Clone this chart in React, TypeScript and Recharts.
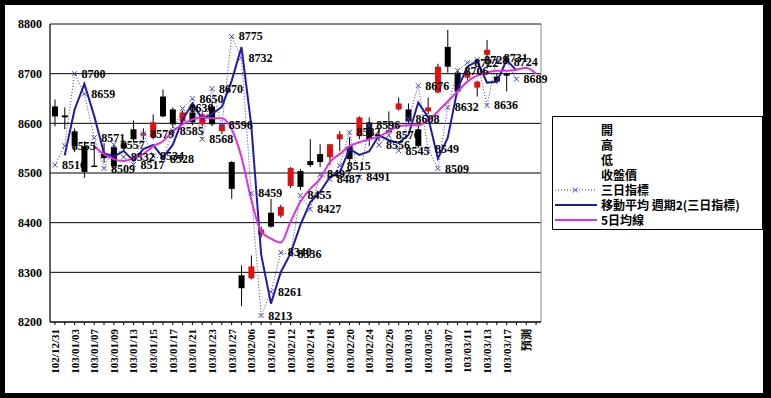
import { Bar, CartesianGrid, ComposedChart, LabelList, Line, ReferenceArea, XAxis, YAxis } from "recharts";

const dates = [
  "102/12/31", "103/01/02", "103/01/03", "103/01/06", "103/01/07", "103/01/08", "103/01/09", "103/01/10",
  "103/01/13", "103/01/14", "103/01/15", "103/01/16", "103/01/17", "103/01/20", "103/01/21", "103/01/22",
  "103/01/23", "103/01/24", "103/01/27", "103/02/05", "103/02/06", "103/02/07", "103/02/10", "103/02/11",
  "103/02/12", "103/02/13", "103/02/14", "103/02/17", "103/02/18", "103/02/19", "103/02/20", "103/02/21",
  "103/02/24", "103/02/25", "103/02/26", "103/02/27", "103/03/03", "103/03/04", "103/03/05", "103/03/06",
  "103/03/07", "103/03/10", "103/03/11", "103/03/12", "103/03/13", "103/03/14", "103/03/17", "103/03/18",
  "預測", "",
];

// 開 高 低 收盤價
const openPrices = [
  8634, 8616, 8584, 8554, 8515, 8540, 8552, 8560, 8588, 8576, 8572, 8654, 8628, 8604, 8622, 8598,
  8634, 8584, 8522, 8294, 8288, 8376, 8420, 8414, 8474, 8504, 8524, 8538, 8532, 8568, 8554, 8574,
  8602, 8576, 8586, 8628, 8628, 8588, 8624, 8662, 8754, 8702, 8692, 8672, 8738, 8694, 8700,
];
const highPrices = [
  8648, 8632, 8590, 8564, 8562, 8560, 8556, 8566, 8606, 8590, 8618, 8668, 8632, 8626, 8640, 8622,
  8644, 8600, 8524, 8314, 8334, 8392, 8448, 8436, 8512, 8508, 8568, 8558, 8558, 8584, 8572, 8614,
  8612, 8584, 8624, 8652, 8640, 8596, 8652, 8720, 8788, 8708, 8706, 8686, 8768, 8700, 8702,
];
const lowPrices = [
  8594, 8588, 8542, 8490, 8512, 8520, 8506, 8544, 8562, 8566, 8568, 8612, 8590, 8600, 8596, 8594,
  8594, 8578, 8448, 8232, 8286, 8370, 8390, 8410, 8470, 8466, 8512, 8512, 8516, 8544, 8518, 8568,
  8554, 8564, 8580, 8626, 8600, 8550, 8618, 8660, 8702, 8660, 8688, 8654, 8714, 8680, 8664,
];
const closePrices = [
  8614, 8612, 8554, 8502, 8513, 8530, 8514, 8550, 8568, 8580, 8602, 8614, 8598, 8622, 8602, 8618,
  8598, 8598, 8468, 8268, 8312, 8386, 8392, 8432, 8510, 8472, 8516, 8522, 8558, 8578, 8528, 8612,
  8568, 8572, 8582, 8640, 8604, 8554, 8632, 8714, 8714, 8664, 8702, 8684, 8748, 8684, 8696,
];

const threeDay = [
  8516, 8555, 8700, 8659, 8571, 8509, 8557, 8532, 8517, 8579, 8534, 8528, 8585, 8630, 8650, 8568,
  8670, 8596, 8775, 8732, 8459, 8213, 8261, 8340, 8336, 8455, 8427, 8497, 8487, 8515, 8582, 8491,
  8596, 8556, 8576, 8545, 8608, 8676, 8549, 8509, 8632, 8706, 8722, 8728, 8636, 8731, 8724, 8689,
];

// 移動平均 週期2(三日指標)
const movingAvg2 = [
  null, 8535.5, 8627.5, 8679.5, 8615, 8540, 8533, 8544.5, 8524.5, 8548, 8556.5, 8531, 8556.5, 8607.5,
  8640, 8609, 8619, 8633, 8685.5, 8753.5, 8595.5, 8336, 8237, 8300.5, 8338, 8395.5, 8441, 8462, 8492,
  8501, 8548.5, 8536.5, 8543.5, 8576, 8566, 8560.5, 8576.5, 8642, 8612.5, 8529, 8570.5, 8669, 8714,
  8725, 8682, 8683.5, 8727.5, 8706.5,
];

// 5日均線
const ma5 = [
  null, null, null, null, 8554, 8538, 8528, 8524, 8530, 8538, 8554, 8564, 8584, 8598, 8608, 8612, 8610,
  8610, 8588, 8532, 8446, 8382, 8368, 8360, 8402, 8442, 8468, 8488, 8522, 8538, 8554, 8562, 8568, 8574,
  8584, 8594, 8596, 8596, 8606, 8624, 8644, 8664, 8684, 8696, 8702, 8706, 8706, 8708, 8712, 8700,
];

const yTicks = [8200, 8300, 8400, 8500, 8600, 8700, 8800];

const rows = dates.map((date, i) => ({
  date,
  open: openPrices[i] ?? null,
  high: highPrices[i] ?? null,
  low: lowPrices[i] ?? null,
  close: closePrices[i] ?? null,
  threeDay: threeDay[i] ?? null,
  ma2: movingAvg2[i] ?? null,
  ma5: ma5[i] ?? null,
}));

const legendItems = [
  { name: "開", kind: "none" },
  { name: "高", kind: "none" },
  { name: "低", kind: "none" },
  { name: "收盤價", kind: "none" },
  { name: "三日指標", kind: "dotted" },
  { name: "移動平均 週期2(三日指標)", kind: "blue" },
  { name: "5日均線", kind: "magenta" },
];

const SERIF = "'Liberation Serif', 'Times New Roman', serif";
const CJK = "'Noto Sans CJK TC', 'Noto Sans CJK SC', sans-serif";

function Candle(props: any) {
  const { x, width, payload } = props;
  let { y, height } = props;
  if (!payload || payload.high == null) return <g />;
  if (height < 0) {
    y += height;
    height = -height;
  }
  const { open, close, high, low } = payload;
  const cx = x + width / 2;
  const span = high - low || 1;
  const toY = (v: number) => y + ((high - v) / span) * height;
  const top = toY(Math.max(open, close));
  const bottom = toY(Math.min(open, close));
  const up = close > open;
  return (
    <g>
      <line x1={cx} x2={cx} y1={y} y2={y + height} stroke="#000" strokeWidth={1} />
      <rect x={cx - 3} y={top} width={6} height={Math.max(bottom - top, 1.5)} fill={up ? "#e01010" : "#000"} />
    </g>
  );
}

function Cross(props: any) {
  const { cx, cy, value } = props;
  if (value == null || cx == null || cy == null) return <g />;
  const s = 2.5;
  return (
    <path
      d={`M${cx - s},${cy - s}L${cx + s},${cy + s}M${cx - s},${cy + s}L${cx + s},${cy - s}`}
      stroke="#4a44c8"
      strokeWidth={1}
    />
  );
}

function ValueLabel(props: any) {
  const { x, y, value } = props;
  if (value == null || x == null) return null;
  return (
    <text x={x + 7} y={y + 4} fontSize={12} fontWeight="bold" fontFamily={SERIF} fill="#000">
      {value}
    </text>
  );
}

function DateTick(props: any) {
  const { x, y, payload, index } = props;
  return (
    <g transform={`translate(${x},${y})`}>
      <line y1={0} y2={3} stroke="#000" />
      {index % 2 === 0 && (
        <text
          transform="rotate(-90)"
          x={-7}
          y={4}
          textAnchor="end"
          fontSize={11}
          fontWeight="bold"
          fontFamily={SERIF}
          fill="#000"
        >
          {payload.value}
        </text>
      )}
    </g>
  );
}

function LegendSymbol({ kind }: { kind: string }) {
  if (kind === "dotted") {
    return (
      <svg width={46} height={15}>
        <line x1={2} x2={44} y1={8} y2={8} stroke="#3030c0" strokeDasharray="1 2" />
        <path d="M20,5.5L25,10.5M20,10.5L25,5.5" stroke="#4a44c8" />
      </svg>
    );
  }
  if (kind === "blue" || kind === "magenta") {
    return (
      <svg width={46} height={15}>
        <line x1={2} x2={44} y1={8} y2={8} stroke={kind === "blue" ? "#1c1ca6" : "#e030e0"} strokeWidth={2} />
      </svg>
    );
  }
  return <svg width={46} height={15} />;
}

function ChartLegend() {
  return (
    <div
      style={{
        position: "absolute",
        left: 552,
        top: 116,
        width: 211,
        height: 114,
        border: "1px solid #000",
        boxSizing: "border-box",
        background: "#fff",
        paddingTop: 5,
        overflow: "hidden",
      }}
    >
      {legendItems.map((item) => (
        <div key={item.name} style={{ display: "flex", alignItems: "center", height: 15, whiteSpace: "nowrap" }}>
          <LegendSymbol kind={item.kind} />
          <span
            style={{
              fontFamily: CJK,
              fontSize: 12,
              fontWeight: "bold",
              color: "#000",
              marginLeft: 2,
              lineHeight: "15px",
            }}
          >
            {item.name}
          </span>
        </div>
      ))}
    </div>
  );
}

export default function App() {
  return (
    <div style={{ position: "fixed", left: 0, top: 0, width: 771, height: 398, background: "#000" }}>
      <div style={{ position: "absolute", left: 5, top: 5, width: 758, height: 388, background: "#fff" }} />
      <div style={{ position: "absolute", left: 0, top: 0 }}>
        <ComposedChart width={771} height={398} data={rows} margin={{ top: 24, right: 230, bottom: 16, left: 0 }}>
          <CartesianGrid vertical={false} stroke="#000" />
          <ReferenceArea y1={8200} y2={8800} fill="none" stroke="#8c8c8c" ifOverflow="visible" />
          <XAxis
            dataKey="date"
            interval={0}
            height={60}
            tickSize={0}
            tickMargin={0}
            tickLine={false}
            axisLine={{ stroke: "#000" }}
            tick={<DateTick />}
          />
          <YAxis
            domain={[8200, 8800]}
            ticks={yTicks}
            allowDataOverflow
            width={50}
            tickSize={0}
            tickMargin={8}
            tickLine={false}
            axisLine={{ stroke: "#000" }}
            tick={{ fontSize: 12, fontWeight: "bold", fill: "#000", fontFamily: SERIF }}
          />
          <Bar
            dataKey={(d: any) => (d.high == null ? null : [d.low, d.high])}
            shape={<Candle />}
            isAnimationActive={false}
          />
          <Line
            dataKey="threeDay"
            stroke="#3030c0"
            strokeWidth={1}
            strokeDasharray="1 2"
            dot={<Cross />}
            activeDot={false}
            isAnimationActive={false}
          >
            <LabelList dataKey="threeDay" content={<ValueLabel />} />
          </Line>
          <Line
            dataKey="ma2"
            stroke="#1c1ca6"
            strokeWidth={2}
            dot={false}
            activeDot={false}
            isAnimationActive={false}
          />
          <Line
            dataKey="ma5"
            type="monotone"
            stroke="#e030e0"
            strokeWidth={2}
            dot={false}
            activeDot={false}
            isAnimationActive={false}
          />
        </ComposedChart>
      </div>
      <ChartLegend />
    </div>
  );
}
